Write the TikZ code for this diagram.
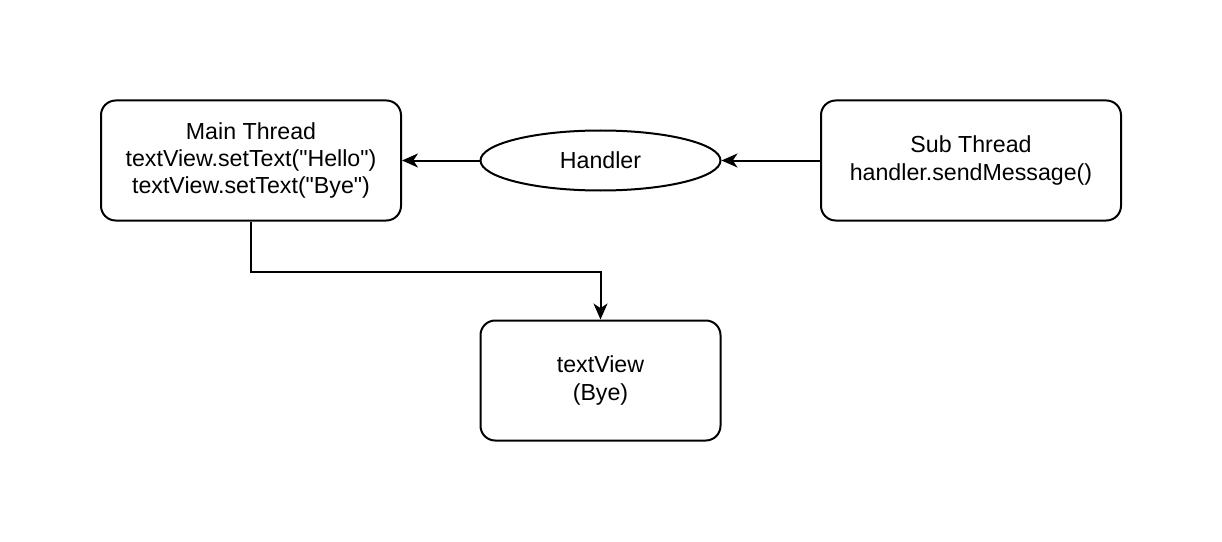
\documentclass[tikz,border=0pt]{standalone}
\usepackage{fontspec}
\setmainfont{Liberation Sans}[Ligatures=TeXOff]
\usetikzlibrary{arrows.meta,shapes.geometric}

\begin{document}
\begin{tikzpicture}
    [x=0.75pt,y=-0.75pt,
      every node/.style={font=\fontsize{17.4}{20.4}\selectfont,align=center},
      box/.style={rectangle,rounded corners=11pt,draw=black,line width=1.5pt,
        minimum width=225pt,minimum height=90pt},
      oval/.style={ellipse,draw=black,line width=1.5pt,
        minimum width=180pt,minimum height=45pt},
      link/.style={line width=1.5pt,-{Stealth[length=12pt,width=10.5pt,inset=3.5pt]}}
    ]
    \useasboundingbox (0,0) rectangle (1222,542);

    \node [box] at (251,160.5) (mainT)
      {Main Thread\\textView.setText("Hello")\\textView.setText("Bye")};
    \node [oval] at (600.5,160.5) (handler) {Handler};
    \node [box] at (971,160.5) (subT) {Sub Thread\\handler.sendMessage()};
    \node [box,minimum width=180pt] at (600.5,380.5) (view) {textView\\(Bye)};

    \draw [link] (subT) -- (handler);
    \draw [link] (handler) -- (mainT);
    \draw [link] (mainT.south) -- ++(0,50) -| (view.north);
  \end{tikzpicture}
\end{document}
